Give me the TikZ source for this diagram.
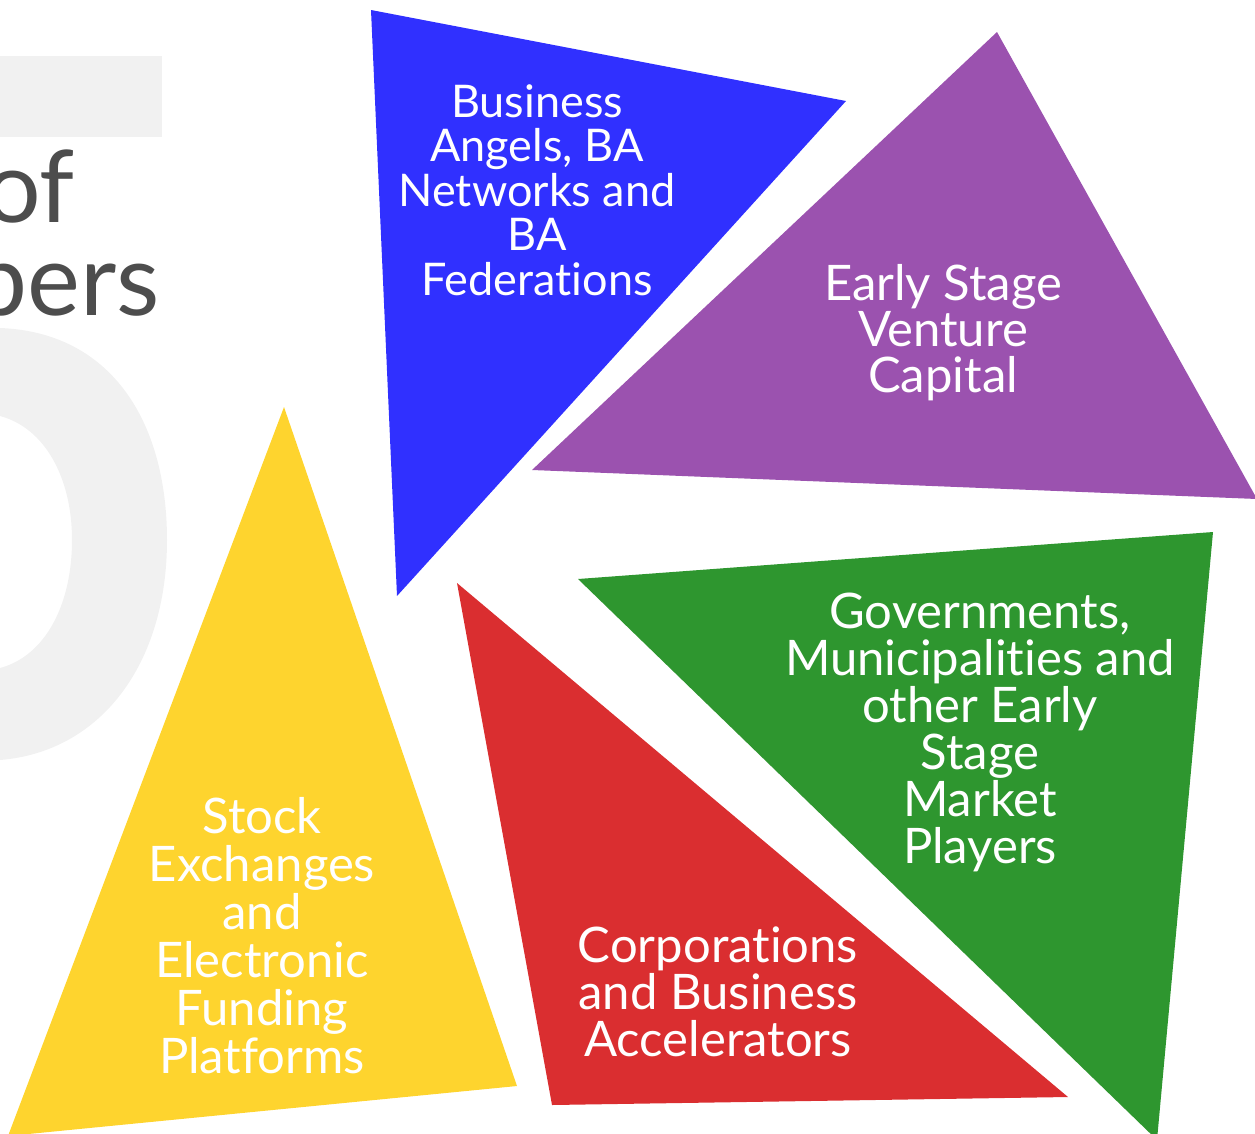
\documentclass[tikz,border=0pt]{standalone}
\usepackage{fontspec}
\setmainfont{Lato}[Ligatures=NoCommon]
\usepackage{tikz}
\usetikzlibrary{positioning}

\definecolor{baBlue}{HTML}{3030FF}
\definecolor{vcPurple}{HTML}{9B52AF}
\definecolor{govGreen}{HTML}{2E962F}
\definecolor{corpRed}{HTML}{DA2E30}
\definecolor{stockYellow}{HTML}{FED42E}
\definecolor{backGrey}{HTML}{F1F1F1}
\definecolor{titleGrey}{HTML}{4D4D4D}

\begin{document}
\begin{tikzpicture}
    [x=1pt, y=-1pt,
     lbl/.style={text=white, align=center, inner sep=0pt, anchor=base,
       font=\fontsize{49}{47}\selectfont},
     ttl/.style={text=titleGrey, inner sep=0pt, anchor=base east,
       font=\fontsize{100}{100}\selectfont}]
    \useasboundingbox (0,0) rectangle (1255,1133);
    \clip (0,0) rectangle (1255,1133);

    % background
    \fill[backGrey] (-10,56) rectangle (162,137);
    \fill[backGrey] (-10,328) -- (0,328) .. controls (110,332) and (167,420) .. (167,540)
        .. controls (167,665) and (100,752) .. (0,760) -- (-10,760) -- (-10,668)
        -- (0,668) .. controls (45,656) and (72,605) .. (72,540)
        .. controls (72,478) and (45,428) .. (0,416) -- (-10,416) -- cycle;
    \node (of) [ttl] at (75,222) {of};
    \node (bers) [ttl] at (160,315) {bers};

    % triangles
    \fill[baBlue] (371,10) -- (846,101) -- (397,596) -- cycle;
    \fill[vcPurple] (997,32) -- (1257,499) -- (532,470) -- cycle;
    \fill[govGreen] (578,579) -- (1213,532) -- (1157,1140) -- cycle;
    \fill[corpRed] (457,583) -- (1068,1097) -- (552,1105) -- cycle;
    \fill[stockYellow] (284,407) -- (517,1086) -- (8,1136) -- cycle;

    % labels (anchored at the last line)
    \node (ba) [lbl, font=\fontsize{45}{44.5}\selectfont] at (537,295)
        {Business\\Angels, BA\\Networks and\\BA\\Federations};
    \node (vc) [lbl, font=\fontsize{49}{46}\selectfont] at (943,392)
        {Early Stage\\Venture\\Capital};
    \node (gov) [lbl] at (980,863)
        {Governments,\\Municipalities and\\other Early\\Stage\\Market\\Players};
    \node (corp) [lbl] at (718,1056)
        {Corporations\\and Business\\Accelerators};
    \node (stock) [lbl, font=\fontsize{49}{48}\selectfont] at (262,1073)
        {Stock\\Exchanges\\and\\Electronic\\Funding\\Platforms};
\end{tikzpicture}
\end{document}
